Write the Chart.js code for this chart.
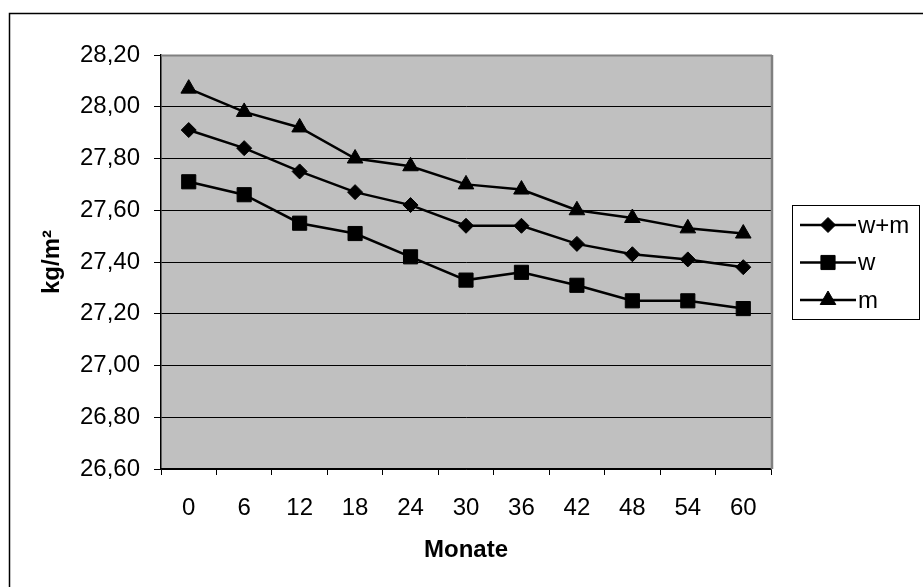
<!DOCTYPE html>
<html>
<head>
<meta charset="utf-8">
<script src="https://cdn.jsdelivr.net/npm/chart.js@4/dist/chart.umd.min.js"></script>
<style>
  html, body { margin: 0; padding: 0; background: #fff; }
  #wrap { width: 923px; height: 587px; }
</style>
</head>
<body>
<div id="wrap"><canvas id="c" width="923" height="587"></canvas></div>
<script>
// Months since baseline
const months = ['0', '6', '12', '18', '24', '30', '36', '42', '48', '54', '60'];

// Mean BMI (kg/m²) per group
const bmiAll   = [27.91, 27.84, 27.75, 27.67, 27.62, 27.54, 27.54, 27.47, 27.43, 27.41, 27.38];
const bmiWomen = [27.71, 27.66, 27.55, 27.51, 27.42, 27.33, 27.36, 27.31, 27.25, 27.25, 27.22];
const bmiMen   = [28.07, 27.98, 27.92, 27.80, 27.77, 27.70, 27.68, 27.60, 27.57, 27.53, 27.51];

const seriesNames = ['w+m', 'w', 'm'];

// Value axis ticks
const yTickValues = [26.6, 26.8, 27.0, 27.2, 27.4, 27.6, 27.8, 28.0, 28.2];

const FONT = "'Liberation Sans', Arial, sans-serif";
const FS = 24;

function fmt(v) { return Number(v).toFixed(2).replace('.', ','); }

function drawMarker(ctx, style, r, x, y) {
  if (window.Chart && Chart.helpers && Chart.helpers.drawPoint) {
    Chart.helpers.drawPoint(ctx, { pointStyle: style, radius: r, rotation: 0, borderWidth: 1 }, x, y);
    return;
  }
  ctx.beginPath();
  if (style === 'rect') {
    const s = r * Math.SQRT1_2;
    ctx.rect(x - s, y - s, 2 * s, 2 * s);
  } else if (style === 'rectRot') {
    ctx.moveTo(x, y - r); ctx.lineTo(x + r, y); ctx.lineTo(x, y + r); ctx.lineTo(x - r, y);
  } else {
    ctx.moveTo(x, y - r);
    ctx.lineTo(x + r * Math.sin(Math.PI / 3), y + r / 2);
    ctx.lineTo(x - r * Math.sin(Math.PI / 3), y + r / 2);
  }
  ctx.closePath();
  ctx.fill();
  ctx.stroke();
}

const frame = {
  id: 'frame',
  beforeDraw(chart) {
    const ctx = chart.ctx, a = chart.chartArea;
    ctx.save();
    ctx.fillStyle = '#ffffff';
    ctx.fillRect(0, 0, chart.width, chart.height);
    ctx.strokeStyle = '#000000';
    ctx.lineWidth = 1.5;
    ctx.strokeRect(9.5, 13.5, 1000, 1000);
    ctx.fillStyle = '#c0c0c0';
    ctx.fillRect(a.left, a.top, a.right - a.left, a.bottom - a.top);
    ctx.restore();
  },
  beforeDatasetsDraw(chart) {
    const ctx = chart.ctx, a = chart.chartArea;
    ctx.save();
    ctx.strokeStyle = '#808080';
    ctx.lineWidth = 2;
    ctx.beginPath();
    ctx.moveTo(a.left, a.top + 0.5);
    ctx.lineTo(a.right + 1, a.top + 0.5);
    ctx.stroke();
    ctx.lineWidth = 2.5;
    ctx.beginPath();
    ctx.moveTo(a.right + 1, a.top);
    ctx.lineTo(a.right + 1, a.bottom);
    ctx.stroke();
    ctx.restore();
  },
  afterDraw(chart) {
    const ctx = chart.ctx;
    const bx = 792.5, by = 205.5, bw = 127, bh = 114;
    ctx.save();
    ctx.fillStyle = '#ffffff';
    ctx.fillRect(bx, by, bw, bh);
    ctx.strokeStyle = '#000000';
    ctx.lineWidth = 1;
    ctx.strokeRect(bx, by, bw, bh);
    chart.data.datasets.forEach((ds, i) => {
      const y = 225 + i * 37.5;
      ctx.strokeStyle = '#000';
      ctx.lineWidth = 2.5;
      ctx.beginPath();
      ctx.moveTo(800, y);
      ctx.lineTo(856, y);
      ctx.stroke();
      ctx.fillStyle = '#000';
      ctx.strokeStyle = '#000';
      ctx.lineWidth = 1;
      drawMarker(ctx, ds.pointStyle, ds.pointRadius, 828, y);
      ctx.fillStyle = '#000';
      ctx.font = FS + 'px ' + FONT;
      ctx.textAlign = 'left';
      ctx.textBaseline = 'middle';
      ctx.fillText(ds.label, 858, y + 1);
    });
    ctx.restore();
  }
};

function series(label, data, style, radius) {
  return {
    label: label,
    data: data,
    borderColor: '#000000',
    backgroundColor: '#000000',
    borderWidth: 2.5,
    pointStyle: style,
    pointRadius: radius,
    pointHoverRadius: radius,
    pointBorderWidth: 1,
    pointBackgroundColor: '#000000',
    pointBorderColor: '#000000',
    tension: 0,
    fill: false
  };
}

new Chart(document.getElementById('c'), {
  type: 'line',
  data: {
    labels: months,
    datasets: [
      series(seriesNames[0], bmiAll, 'rectRot', 7.5),
      series(seriesNames[1], bmiWomen, 'rect', 10),
      series(seriesNames[2], bmiMen, 'triangle', 9)
    ]
  },
  options: {
    responsive: false,
    animation: false,
    devicePixelRatio: 1,
    layout: { padding: { left: 0, top: 55, right: 152, bottom: 0 } },
    plugins: { legend: { display: false }, tooltip: { enabled: false } },
    scales: {
      x: {
        type: 'category',
        offset: true,
        grid: { offset: true, drawOnChartArea: false, drawTicks: true, tickLength: 6, color: '#000', lineWidth: 1 },
        border: { display: true, color: '#000', width: 1.5 },
        ticks: { color: '#000', font: { family: FONT, size: FS }, padding: 19, maxRotation: 0, autoSkip: false },
        title: { display: true, text: 'Monate', color: '#000', font: { family: FONT, size: FS, weight: 'bold' }, padding: { top: 0, bottom: 22 } },
        afterFit(scale) { scale.height = 118; }
      },
      y: {
        type: 'linear',
        min: 26.6,
        max: 28.2,
        afterBuildTicks(scale) { scale.ticks = yTickValues.map(v => ({ value: v })); },
        grid: { color: '#000', lineWidth: 1, drawTicks: true, tickLength: 7 },
        border: { display: true, color: '#000', width: 1.5 },
        ticks: { color: '#000', font: { family: FONT, size: FS }, padding: 14, callback: v => fmt(v) },
        title: { display: true, text: 'kg/m²', color: '#000', font: { family: FONT, size: FS, weight: 'bold' }, padding: { top: 38, bottom: 0 } },
        afterFit(scale) { scale.width = 161; }
      }
    }
  },
  plugins: [frame]
});
</script>
</body>
</html>
